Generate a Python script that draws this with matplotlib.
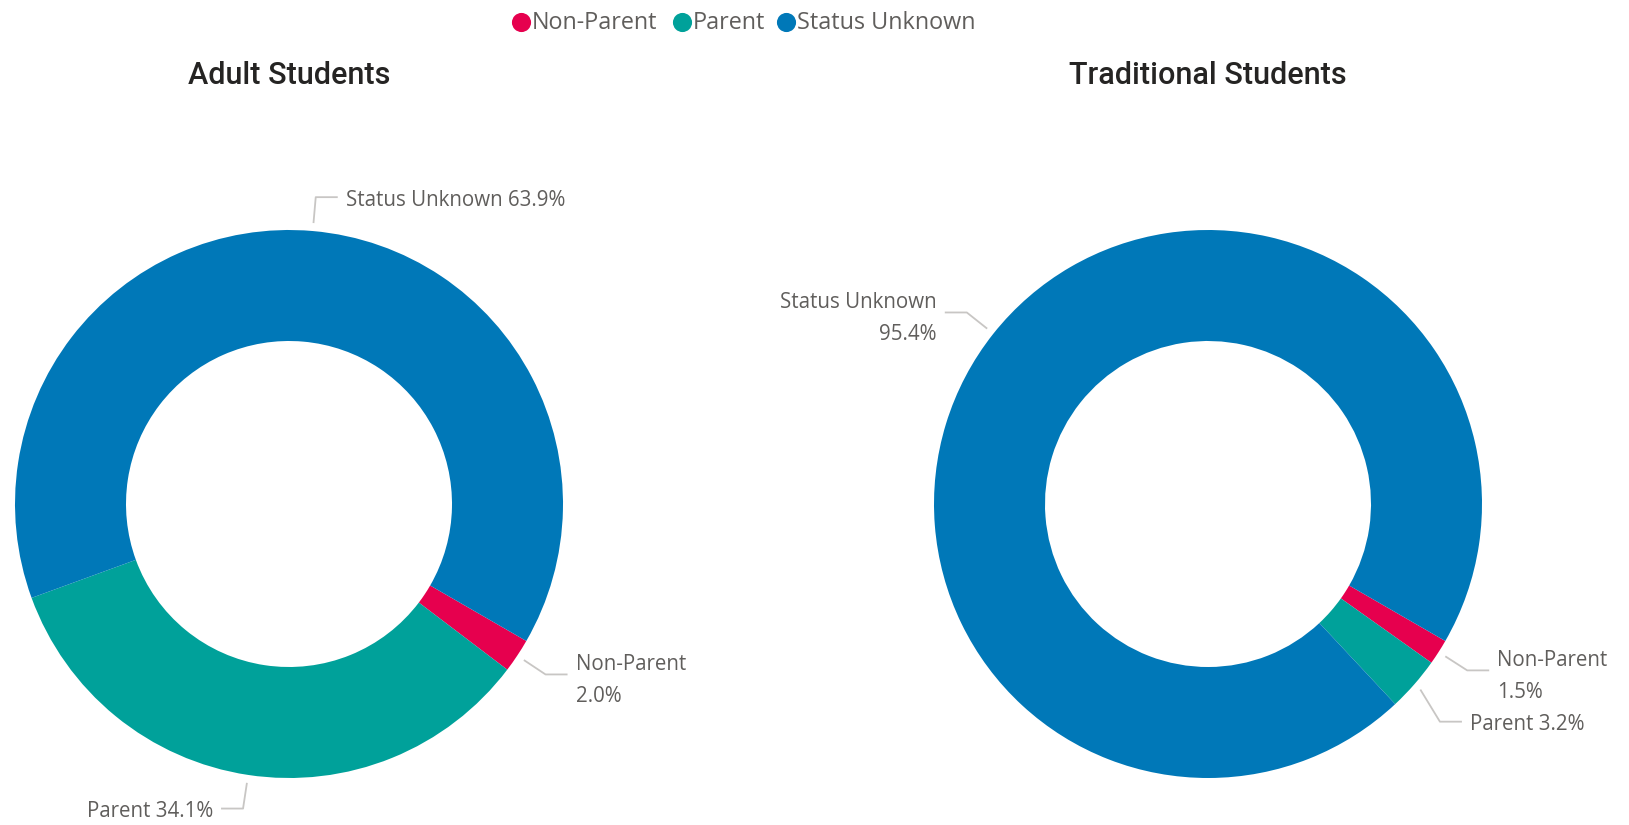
import numpy as np
import matplotlib
matplotlib.use("Agg")
import matplotlib.pyplot as plt

categories = ["Non-Parent", "Parent", "Status Unknown"]
adult_pct = [2.0, 34.1, 63.9]
traditional_pct = [1.5, 3.2, 95.4]
titles = ["Adult Students", "Traditional Students"]

colors = ["#E6004E", "#00A19A", "#0078B8"]
label_color = "#605E5C"
line_color = "#C8C6C4"

# label wrapping per slice (Power BI wraps some labels to two lines)
wraps = [[True, False, False], [True, False, True]]
# extra vertical push of a label's elbow (to avoid overlap), px
pushes = [[0, 0, 0], [0, -15, 0]]

W, H = 1629, 825
fig = plt.figure(figsize=(W / 100, H / 100), dpi=100)
ax = fig.add_axes([0, 0, 1, 1])

centers = [(289, H - 504), (1208, H - 504)]
R = 274
ring = 111
font = ["Open Sans", "DejaVu Sans"]

for values, title, c, wrap, push in zip([adult_pct, traditional_pct], titles,
                                         centers, wraps, pushes):
    wedges, _ = ax.pie(values, colors=colors, startangle=-30, counterclock=False,
                       radius=R, center=c,
                       wedgeprops=dict(width=ring, linewidth=0))
    for w, name, v, wr, pu in zip(wedges, categories, values, wrap, push):
        mid = np.deg2rad((w.theta1 + w.theta2) / 2)
        d = np.array([np.cos(mid), np.sin(mid)])
        p0 = np.array(c) + (R + 8) * d
        p1 = np.array(c) + (R + 34) * d + np.array([0, pu])
        side = 1 if d[0] >= 0 else -1
        p2 = p1 + np.array([side * 22, 0])
        ax.plot([p0[0], p1[0], p2[0]], [p0[1], p1[1], p2[1]],
                color=line_color, lw=1.3, solid_capstyle="butt")
        sep = "\n" if wr else " "
        dy = -6 if wr else -3
        ax.text(p2[0] + side * 8, p2[1] + dy, f"{name}{sep}{v:.1f}%",
                ha="left" if side > 0 else "right", va="center",
                multialignment="left" if side > 0 else "right",
                fontsize=14.8, color=label_color, family=font, linespacing=1.7)
    ax.text(c[0], H - 75, title, ha="center", va="center", fontsize=22,
            color="#252423", family=["Roboto", "DejaVu Sans"], fontweight="medium")

# legend
leg_x = [521, 682, 786]
for x, name, col in zip(leg_x, categories, colors):
    ax.scatter([x], [H - 22], s=190, color=col, linewidths=0)
    ax.text(x + 11, H - 23, name, ha="left", va="center", fontsize=16.8,
            color=label_color, family=font)

ax.set_xlim(0, W)
ax.set_ylim(0, H)
ax.set_aspect("equal")
ax.axis("off")

fig.savefig("out.png", dpi=100, facecolor="white")
